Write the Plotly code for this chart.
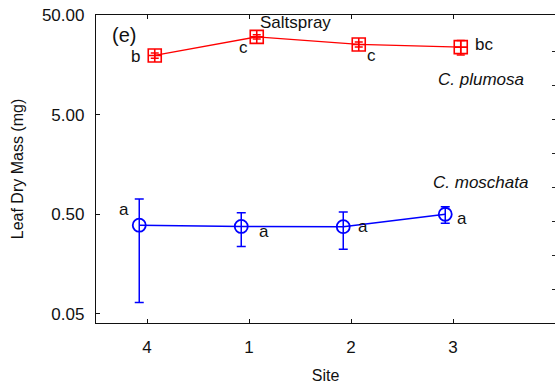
import numpy as np
import plotly.graph_objects as go

# Sites in plotted order and their tick labels
sites = ["4", "1", "2", "3"]

# Leaf dry mass (mg), mean and error, per species
plumosa_mass = [19.7, 30.3, 25.4, 23.9]
plumosa_err = [1.2, 1.5, 1.5, 4.0]
plumosa_letters = ["b", "c", "c", "bc"]

moschata_mass = [0.388, 0.377, 0.375, 0.50]
moschata_err = [0.323, 0.14, 0.152, 0.094]
moschata_letters = ["a", "a", "a", "a"]

# Y axis ticks
y_ticks = [0.05, 0.5, 5, 50]
y_ticktext = ["0.05", "0.50", "5.00", "50.00"]

FONT = "Liberation Sans, Arial, sans-serif"
RED = "#ff0000"
BLUE = "#0000ff"

idx = np.arange(len(sites))
dodge = 0.076  # horizontal dodge between the two species

fig = go.Figure()

fig.add_trace(go.Scatter(
    x=idx + dodge, y=plumosa_mass,
    mode="lines+markers",
    line=dict(color=RED, width=1.3),
    marker=dict(symbol="square-cross-open", size=13, color=RED, line=dict(width=1.6, color=RED)),
    error_y=dict(type="data", array=plumosa_err, visible=True, color=RED, thickness=1.5, width=4),
    showlegend=False, hoverinfo="skip",
))

fig.add_trace(go.Scatter(
    x=idx - dodge, y=moschata_mass,
    mode="lines+markers",
    line=dict(color=BLUE, width=1.5),
    marker=dict(symbol="circle-open", size=13, color=BLUE, line=dict(width=1.8, color=BLUE)),
    error_y=dict(type="data", array=moschata_err, visible=True, color=BLUE, thickness=1.5, width=4.5),
    showlegend=False, hoverinfo="skip",
))

# Empty trace that carries the right-hand tick axis
fig.add_trace(go.Scatter(x=[], y=[], yaxis="y2", showlegend=False, hoverinfo="skip"))

# Significance letters next to each mean
plum_shift = [(-19, -1), (-13, -11), (13, -11), (23, 3)]
mosc_shift = [(-15, 16), (23, -5), (20, 0), (17, -4)]
annots = []
for i, (lab, (dx, dy)) in enumerate(zip(plumosa_letters, plum_shift)):
    annots.append(dict(x=idx[i] + dodge, y=np.log10(plumosa_mass[i]), xref="x", yref="y",
                       text=lab, showarrow=False, xshift=dx, yshift=dy,
                       font=dict(family=FONT, size=17, color="#111")))
for i, (lab, (dx, dy)) in enumerate(zip(moschata_letters, mosc_shift)):
    annots.append(dict(x=idx[i] - dodge, y=np.log10(moschata_mass[i]), xref="x", yref="y",
                       text=lab, showarrow=False, xshift=dx, yshift=dy,
                       font=dict(family=FONT, size=17, color="#111")))

def paper(px, py):
    return (px - 95.7) / 459.3, (323.3 - py) / 307.8

for text, (px, py), size in [
    ("(e)", (124, 35), 20),
    ("Saltspray", (295, 23), 17),
    ("<i>C. plumosa</i>", (481, 80), 17),
    ("<i>C. moschata</i>", (480, 183), 17),
]:
    xp, yp = paper(px, py)
    annots.append(dict(x=xp, y=yp, xref="paper", yref="paper", text=text,
                       showarrow=False, xanchor="center", yanchor="middle",
                       font=dict(family=FONT, size=size, color="#111")))

fig.update_layout(
    width=555, height=388,
    margin=dict(l=96, r=0, t=15, b=65),
    paper_bgcolor="white", plot_bgcolor="white",
    font=dict(family=FONT, size=17, color="#111"),
    annotations=annots,
    xaxis=dict(
        range=[-0.5, 4.0],
        tickmode="array", tickvals=idx, ticktext=sites,
        ticks="inside", ticklen=4, tickwidth=1, tickcolor="#111",
        showline=True, linecolor="#111", linewidth=1.3, mirror="ticks",
        showgrid=False, zeroline=False,
        ticklabelstandoff=8,
        title=dict(text="Site", font=dict(size=16), standoff=14),
    ),
    yaxis=dict(
        type="log", range=[-1.394, 1.701],
        tickmode="array", tickvals=y_ticks, ticktext=y_ticktext,
        ticks="inside", ticklen=4, tickwidth=1, tickcolor="#111",
        showline=True, linecolor="#111", linewidth=1.3,
        showgrid=False, zeroline=False,
        ticklabelstandoff=7,
        title=dict(text="Leaf Dry Mass (mg)", font=dict(size=16), standoff=14),
    ),
    yaxis2=dict(
        overlaying="y", side="right", anchor="x",
        range=[0, 308 / 34], tickmode="array", tickvals=list(range(1, 9)),
        ticks="inside", ticklen=3, tickwidth=1, tickcolor="#222",
        showticklabels=False, showline=False, showgrid=False, zeroline=False,
    ),
)

fig.write_html("out.html")
